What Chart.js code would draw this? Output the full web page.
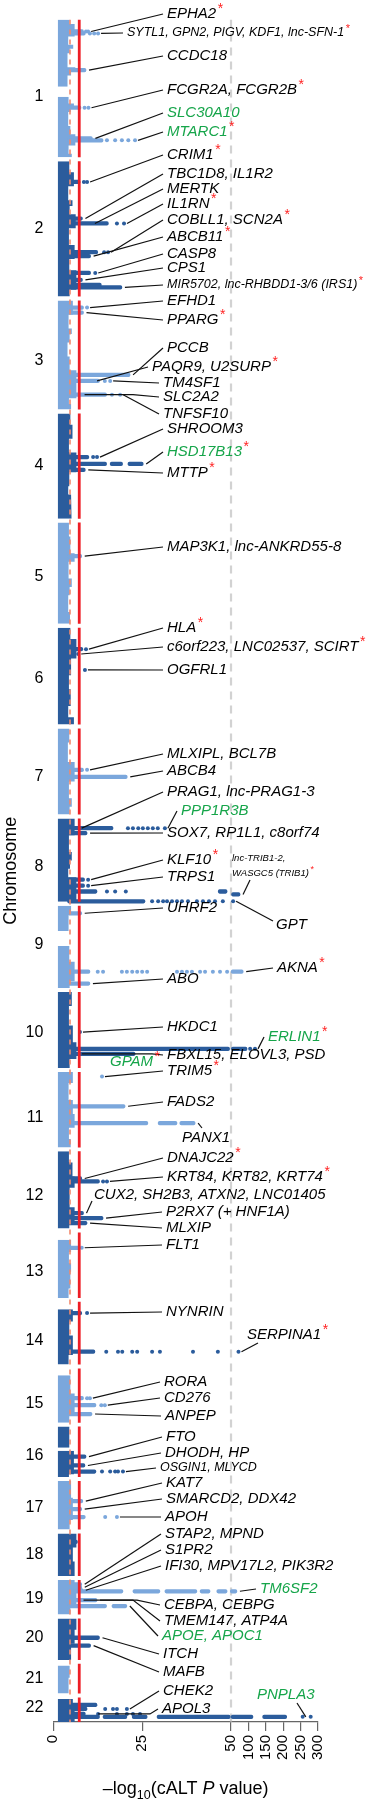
<!DOCTYPE html>
<html>
<head>
<meta charset="utf-8">
<title>cALT Manhattan plot</title>
<script src="https://cdn.jsdelivr.net/npm/chart.js@4.4.1/dist/chart.umd.min.js"></script>
<style>
  html, body { margin: 0; padding: 0; background: #fff; }
  canvas { display: block; }
</style>
</head>
<body>
<canvas id="manhattan" width="367" height="1800"></canvas>
<script>
// ---------- chromosomes (lengths in Mb as drawn) ----------
const chromosomes = ["1","2","3","4","5","6","7","8","9","10","11","12","13","14","15","16","17","18","19","20","21","22"];
const chromLength = [246,242,195,188,181,173,154,149,147,136,135,138,117,112,97,90,87,76,62,74,53,44];
const chromLabelPos = [138,120,108,94,97,91,86,86,70,72,81,79,70,70,62,52,47,38,34,34,26,19];
const chromGap = 7;

// top of the dense cloud of sub-threshold variants: [from Mb, to Mb, -log10 P]
const bandTop = [
  [[0,8,4.6],[8,30,6.0],[30,45,4.2],[45,52,5.6],[52,60,4.6],[60,85,4.0],[85,92,6.2],[92,100,5.0],[100,120,4.0],[138,150,4.3],[150,158,5.8],[158,165,4.9],[165,190,4.2],[190,205,4.8],[205,225,6.2],[225,240,4.3],[240,246,5.2]],
  [[0,20,4.5],[20,45,5.8],[45,70,4.2],[70,80,5.4],[80,95,4.6],[95,120,6.3],[120,150,4.4],[150,175,6.0],[175,195,4.5],[195,230,6.5],[230,242,4.6]],
  [[0,25,5.5],[25,50,4.3],[50,60,5.2],[60,75,4.6],[75,100,4.0],[100,125,4.6],[125,175,6.5],[175,185,4.4],[185,195,5.0]],
  [[0,20,4.8],[20,45,5.4],[45,70,4.4],[70,105,6.5],[105,130,4.5],[130,145,4.2],[145,160,5.0],[160,188,5.2]],
  [[0,25,4.4],[25,55,4.8],[55,70,6.0],[70,100,4.3],[100,115,5.2],[115,130,4.6],[130,160,4.2],[160,181,4.7]],
  [[0,20,4.8],[20,55,6.5],[55,85,5.0],[85,110,4.4],[110,140,4.9],[140,160,4.2],[160,173,5.8]],
  [[0,25,4.5],[25,60,4.1],[60,95,6.0],[95,125,4.4],[125,140,5.2],[140,154,4.6]],
  [[0,30,6.0],[30,60,4.4],[60,75,5.2],[75,90,4.7],[90,105,4.2],[105,149,6.5]],
  [[0,15,5.0],[15,45,4.3],[72,100,4.5],[100,135,6.0],[135,147,4.6]],
  [[0,25,5.2],[25,60,4.4],[60,90,5.5],[90,120,6.5],[120,136,4.6]],
  [[0,20,5.5],[20,50,4.3],[50,75,5.5],[75,100,6.0],[100,120,4.4],[120,135,4.9]],
  [[0,20,4.4],[20,45,5.4],[45,65,6.0],[65,100,4.6],[100,130,6.0],[130,138,4.5]],
  [[13,35,5.0],[35,55,4.4],[55,70,5.0],[70,100,4.8],[100,117,4.3]],
  [[13,35,5.5],[35,60,4.5],[60,95,5.5],[95,112,4.3]],
  [[12,45,4.8],[45,85,6.0],[85,97,4.5]],
  [[0,38,4.5],[43,85,5.8],[85,90,4.4]],
  [[0,30,5.0],[30,70,5.5],[70,87,4.6]],
  [[0,25,6.5],[25,50,5.5],[50,76,6.0]],
  [[0,15,6.0],[15,45,6.5],[45,62,4.8]],
  [[0,20,6.5],[20,45,6.0],[45,74,5.0]],
  [[3,25,4.6],[25,53,4.3]],
  [[3,15,5.5],[15,44,6.0]]
];

// ---------- axis ----------
const xTicks = [0, 25, 50, 100, 150, 200, 250, 300];
const pFloor = 1.3;
const suggestiveLine = 4.7;
const significantLine = 7.3;
const axisBreak = 50;
const compress = 0.0979;

// ---------- associated loci ----------
const hitChr = [1,1,1,1,1,1, 2,2,2,2,2,2,2,2,2, 3,3,3,3,3, 4,4,4, 5, 6,6,6, 7,7, 8,8,8,8,8,8,8, 9,9,9, 10,10,10, 11,11,11, 12,12,12,12,12, 13, 14,14, 15,15,15, 16,16,16, 17,17,17, 18, 19,19,19,19,19,19, 20,20, 22,22,22,22];
const hitPos = [21.2,24.8,90.2,157.5,212.3,215.8, 37.2,102.6,111.4,162.7,169.8,199.9,212.3,225.6,221.1, 12.8,21.7,133.1,143.8,168.5, 78,90.3,101, 59.9, 38.3,47,75.4, 74,86.5, 17.3,26.1,109.4,120,130.5,135.8,148, 13.4,117.8,139, 71.7,101.8,110.6, 8.3,61.4,91.5, 48.5,53.8,110.4,119.3,128.1, 27.3, 20.1,89.1, 53.2,65.6,81.5, 53.6,69.5,80.3, 36.2,50.4,64.6, 15, 7.8,13.1,18.5,20.3,36.1,46.7, 34.4,48.5, 20.7,29.5,34.8,13.6];
const hitRuns = [
  [[4,8.5]],[[4,9]],[[4,9.2]],[[4,7.8]],[[4,11]],[[4,14]],
  [[4,7.5]],[[4,8.2]],[[4,15.5]],[[4,12.5]],[[4,10.5]],[[4,10.5]],[[4,8.2]],[[4,19.3]],[[4,13.5]],
  [[4,8.5]],[[4,8.5]],[[4,21.6]],[[4,13]],[[4,15]],
  [[4,10]],[[4,15],[16,19.5],[21,25.3]],[[4,9]],
  [[4,8]],
  [[4,8.3]],[],[],
  [[4,8.5]],[[4,20.8]],
  [[4,16.8]],[[4,9.5]],[[4,8.8]],[[4,8.8]],[[4,12.3],[46.4,48.9]],[[51.5,76]],[[4,25.8]],
  [[4,8]],[[4,10.3],[50.5,85]],[[4,10.3]],
  [],[[4,49.6],[51,96]],[[4,23]],
  [],[[4,20.2]],[[4,26.6],[29.5,34.8],[35.6,39.9]],
  [[4,8]],[[4,13]],[[4,8.5]],[[4,14]],[[4,9.5]],
  [[4,7.5]],
  [[4,8]],[[4,11.7]],
  [[4,8.5]],[[4,12]],[[4,10.9]],
  [[4,9.2]],[[4,8.9]],[[4,12]],
  [[4,8.3]],[[4,8]],[[4,9]],
  [[4,6.8]],
  [[4,8]],[[4,8]],[[4,8.3]],[[4,19.6],[22.4,30],[31.4,40.4],[41.3,44.1],[46,48.9],[49.8,67]],[[4,12.3]],[[4,15],[16.5,20.7]],
  [[4,13]],[[4,10.5]],
  [[4,9.5]],[[4,9]],[[4,13],[14,20.7],[22.2,26.4],[29.2,49.8],[50.5,113],[141,210]],[[4,12.3]]
];
const hitDots = [
  [9.2,9.8],[10.3,11.5,12.6],[],[8.8,9.9],[],[15.1,17.4,19.3,21.1,23],
  [8.6,9.5],[],[17.9,19.9],[14.3,15.4],[],[11.8],[],[],[],
  [9.5],[],[],[14.5,16],[16.5,18.8],
  [11.2,12.3],[],[],
  [],
  [9.2],[7],[8.9],
  [9.5],[],
  [21,22.4,23.9,25.2,26.6,28,29.4,31.4],[],[9.8],[9.8],[15.1,17.4,20.4],[],[27.8,29.5,30.9,32,33.4,34.8,36.2,37.9,40.4,42.1,43.8,45.5,47.7,56],
  [],[12.5,14,19.3,20.7,22.2,23.6,25,26.4,34.8,36.2,37.6,39,41.3,42.7,44.9,46.9,48.9],[],
  [7.5],[105,119],[],
  [13.7],[],[],
  [],[14,15.1],[],[],[],
  [8],
  [9.5],[14.9,18.2,19.4,22.2,23.6,27.8,30,39.3,46.3,71.5],
  [9.5,10.3],[13.5,14.5],[],
  [],[],[13.7,16,17.4,18.2,19.6],
  [],[],[14.6,17.9],
  [],
  [],[],[],[],[],[],
  [],[],
  [14.6,16.8,17.9,20.7],[12.6,17.9,20.7,22.4,24.4],[256,279],[]
];

// ---------- gene labels ----------
const geneNames = [
  "EPHA2","SYTL1, GPN2, PIGV, KDF1, lnc-SFN-1","CCDC18","FCGR2A, FCGR2B","SLC30A10","MTARC1",
  "CRIM1","TBC1D8, IL1R2","MERTK","IL1RN","COBLL1, SCN2A","ABCB11","CASP8","CPS1","MIR5702, lnc-RHBDD1-3/6 (IRS1)",
  "EFHD1","PPARG","PCCB","PAQR9, U2SURP","TM4SF1","SLC2A2","TNFSF10",
  "SHROOM3","HSD17B13","MTTP","MAP3K1, lnc-ANKRD55-8",
  "HLA","c6orf223, LNC02537, SCIRT","OGFRL1","MLXIPL, BCL7B","ABCB4",
  "PRAG1, lnc-PRAG1-3","PPP1R3B","SOX7, RP1L1, c8orf74","KLF10","TRPS1","lnc-TRIB1-2,\nWASGC5 (TRIB1)","GPT",
  "UHRF2","AKNA","ABO","HKDC1","ERLIN1","FBXL15, ELOVL3, PSD","GPAM","TRIM5","FADS2","PANX1",
  "DNAJC22","KRT84, KRT82, KRT74","CUX2, SH2B3, ATXN2, LNC01405","P2RX7 (+ HNF1A)","MLXIP","FLT1",
  "NYNRIN","SERPINA1","RORA","CD276","ANPEP","FTO","DHODH, HP","OSGIN1, MLYCD",
  "KAT7","SMARCD2, DDX42","APOH","STAP2, MPND","S1PR2","IFI30, MPV17L2, PIK3R2","TM6SF2",
  "CEBPA, CEBPG","TMEM147, ATP4A","APOE, APOC1","ITCH","MAFB","CHEK2","APOL3","PNPLA3"
];
const geneHit = [0,1,2,3,4,5,6,7,8,8,9,10,11,12,13,15,16,17,18,18,19,19,20,21,22,23,24,25,26,27,28,29,29,30,31,32,34,35,36,37,38,39,40,41,41,42,43,44,45,46,47,48,49,50,51,52,53,54,55,56,57,58,59,60,61,63,64,65,66,67,67,68,69,70,71,72,73];
const geneAnchor = {8: 11.7, 18: 12.3, 20: 8.8, 31: 8, 43: 8, 70: 8.5, 75: 12.6, 76: 265};
const geneStar = [0,1,3,5,6,9,10,11,14,16,18,23,24,26,27,34,36,39,42,44,45,48,49,55];

// label placement (pixels)
const geneLayout = [
  {x:167,y:14},{x:127,y:33,size:12.5},{x:167,y:56},{x:167,y:90},{x:167,y:113},{x:167,y:132},
  {x:167,y:155},{x:167,y:174},{x:167,y:189},{x:167,y:204},{x:167,y:220},{x:167,y:237},{x:167,y:254},{x:167,y:268},{x:167,y:285,size:12.5},
  {x:167,y:301},{x:167,y:320},{x:167,y:348},{x:152,y:367},{x:163,y:383},{x:163,y:397,elbow:133},{x:163,y:414},
  {x:167,y:429},{x:167,y:452},{x:167,y:473},{x:167,y:547},
  {x:167,y:628},{x:167,y:647},{x:167,y:670},{x:167,y:754},{x:167,y:771},
  {x:167,y:792},{x:181,y:811},{x:167,y:833},{x:167,y:860},{x:167,y:877},{x:232,y:858,size:9.5,lead:15,end:[250,880]},{x:276,y:925,end:[273,921]},
  {x:167,y:908},{x:277,y:968},{x:167,y:979},{x:167,y:1027},{x:268,y:1037},{x:167,y:1055,elbow:152},{x:110,y:1062,noLine:true},{x:167,y:1071},{x:167,y:1102},{x:182,y:1138,end:[202,1128]},
  {x:167,y:1158},{x:167,y:1177},{x:94,y:1195,end:[92,1201]},{x:166,y:1212},{x:166,y:1228},{x:166,y:1245},
  {x:166,y:1312},{x:247,y:1335,end:[258,1343]},{x:164,y:1382},{x:164,y:1398},{x:165,y:1416},{x:166,y:1437},{x:165,y:1453},{x:160,y:1468,size:12.5},
  {x:166,y:1483},{x:166,y:1499},{x:165,y:1517},{x:165,y:1534},{x:165,y:1550},{x:165,y:1566},{x:260,y:1589},
  {x:164,y:1605,elbow:137},{x:164,y:1621,elbow:133},{x:162,y:1636},{x:163,y:1654},{x:163,y:1672},{x:163,y:1691},{x:162,y:1709,elbow:150},{x:257,y:1695,end:[297,1703]}
];
const greenGenes = [4,5,23,32,42,44,68,71,76];

// ---------- derived ----------
const LIGHT = "#7ba7dc", DARK = "#2b5c9c";
const chromColor = i => (i % 2 === 0 ? LIGHT : DARK);
const chromStart = [];
chromLength.reduce((acc, len, i) => { chromStart[i] = acc; return acc + len + chromGap; }, 0);
const genomeLength = chromStart[21] + chromLength[21];
const hitY = h => chromStart[hitChr[h] - 1] + hitPos[h];
const hitMax = h => Math.max(...hitRuns[h].map(r => r[1]), ...hitDots[h]);
const squash = v => (v <= axisBreak ? v : axisBreak + (v - axisBreak) * compress);

// broken x axis: linear up to 50, compressed above
class BrokenScale extends Chart.LinearScale {
  getPixelForValue(value) {
    if (value === null || value === undefined || isNaN(value)) return NaN;
    return this.getPixelForDecimal(squash(value) / squash(this.max));
  }
  getValueForPixel(pixel) {
    const t = this.getDecimalForPixel(pixel) * squash(this.max);
    return t <= axisBreak ? t : axisBreak + (t - axisBreak) / compress;
  }
}
BrokenScale.id = "broken";
BrokenScale.defaults = {};
Chart.register(BrokenScale);

Chart.defaults.font.family = "'Liberation Sans', Arial, Helvetica, sans-serif";
Chart.defaults.color = "#000";

// band datasets, one per chromosome
const bandSets = bandTop.map((ranges, i) => {
  const pts = [];
  let prevEnd = null;
  ranges.forEach(([from, to, top]) => {
    if (prevEnd !== null && from > prevEnd) pts.push({x: null, y: chromStart[i] + (prevEnd + from) / 2});
    pts.push({x: top, y: chromStart[i] + from}, {x: top, y: chromStart[i] + to});
    prevEnd = to;
  });
  return {
    type: "line", indexAxis: "y", data: pts,
    fill: {value: pFloor}, backgroundColor: chromColor(i),
    borderWidth: 0, pointRadius: 0, order: 6
  };
});

const runBars = [], runColors = [], dotPts = [], dotColors = [];
hitChr.forEach((c, h) => {
  hitRuns[h].forEach(r => { runBars.push({y: hitY(h), x: r}); runColors.push(chromColor(c - 1)); });
  hitDots[h].forEach(v => { dotPts.push({x: v, y: hitY(h)}); dotColors.push(chromColor(c - 1)); });
});

const redPts = [];
chromStart.forEach((s, i) => {
  redPts.push({x: significantLine, y: s}, {x: significantLine, y: s + chromLength[i]}, {x: null, y: s + chromLength[i] + 1});
});

// ---------- gene labels + axis title ----------
const labelPlugin = {
  id: "geneLabels",
  afterDraw(chart) {
    const {ctx, scales: {x, y}, chartArea} = chart;
    ctx.save();
    ctx.lineWidth = 1.2;
    ctx.strokeStyle = "#111";
    ctx.textBaseline = "middle";
    geneNames.forEach((name, i) => {
      const lay = geneLayout[i];
      const h = geneHit[i];
      const yy = y.getPixelForValue(hitY(h));
      if (!lay.noLine) {
        const x0 = geneAnchor[i] !== undefined ? x.getPixelForValue(geneAnchor[i]) : x.getPixelForValue(hitMax(h)) + 3;
        const end = lay.end || [lay.x - 4, lay.y];
        ctx.beginPath();
        ctx.moveTo(x0, yy);
        if (lay.elbow) ctx.lineTo(lay.elbow, yy);
        ctx.lineTo(end[0], end[1]);
        ctx.stroke();
      }
      const size = lay.size || 15;
      ctx.fillStyle = greenGenes.includes(i) ? "#16a54a" : "#000";
      const lines = name.split("\n");
      let ly = lay.y, w = 0;
      lines.forEach((ln, k) => {
        ly = lay.y + k * (lay.lead || 0);
        ctx.font = "italic " + size + "px 'Liberation Sans', Arial, sans-serif";
        ctx.fillText(ln, lay.x, ly);
        w = ctx.measureText(ln).width;
      });
      if (geneStar.includes(i)) {
        ctx.fillStyle = "#ff2222";
        ctx.font = Math.round(size * 0.9) + "px 'Liberation Sans', Arial, sans-serif";
        ctx.fillText("*", lay.x + w + 1.5, ly - size * 0.32);
      }
    });

    // x axis title: –log10(cALT P value)
    const parts = [
      {t: "\u2013log", f: "18px", dy: 0},
      {t: "10", f: "12.5px", dy: 5},
      {t: "(cALT ", f: "18px", dy: 0},
      {t: "P", f: "italic 18px", dy: 0},
      {t: " value)", f: "18px", dy: 0}
    ];
    const fam = " 'Liberation Sans', Arial, sans-serif";
    let total = 0;
    parts.forEach(p => { ctx.font = p.f + fam; p.w = ctx.measureText(p.t).width; total += p.w; });
    let cx = (chartArea.left + chartArea.right) / 2 - total / 2;
    ctx.fillStyle = "#000";
    ctx.textBaseline = "alphabetic";
    parts.forEach(p => { ctx.font = p.f + fam; ctx.fillText(p.t, cx, 1794 + p.dy); cx += p.w; });
    ctx.restore();
  }
};

new Chart(document.getElementById("manhattan"), {
  type: "bar",
  data: {
    datasets: [
      ...bandSets,
      {
        type: "line", indexAxis: "y", data: [{x: axisBreak, y: 0}, {x: axisBreak, y: genomeLength}],
        borderColor: "#d2d2d2", borderWidth: 2.2, borderDash: [8, 6], pointRadius: 0, fill: false, order: 5
      },
      {
        type: "bar", data: runBars, backgroundColor: runColors,
        barThickness: 3.6, grouped: false, borderRadius: 1.8, borderSkipped: false, order: 4
      },
      {
        type: "scatter", data: dotPts, backgroundColor: dotColors,
        pointRadius: 2, borderWidth: 0, order: 3
      },
      {
        type: "line", indexAxis: "y", data: [{x: suggestiveLine, y: 0}, {x: suggestiveLine, y: genomeLength}],
        borderColor: "#f3886b", borderWidth: 1.6, borderDash: [5, 5], pointRadius: 0, fill: false, order: 2
      },
      {
        type: "line", indexAxis: "y", data: redPts,
        borderColor: "#ee1d25", borderWidth: 2.8, pointRadius: 0, fill: false, order: 1
      }
    ]
  },
  options: {
    indexAxis: "y",
    responsive: false,
    animation: false,
    events: [],
    layout: {padding: {top: 2, right: 49, bottom: 0, left: 0}},
    plugins: {legend: {display: false}, tooltip: {enabled: false}},
    scales: {
      x: {
        type: "broken", min: 0, max: 300, offset: false,
        grid: {display: true, drawOnChartArea: false, drawTicks: true, tickLength: 9, color: "#666", lineWidth: 1.2},
        border: {display: true, color: "#666", width: 1.2},
        ticks: {autoSkip: false, minRotation: 90, maxRotation: 90, padding: 4, color: "#000", font: {size: 15}},
        afterBuildTicks: s => { s.ticks = xTicks.map(v => ({value: v})); },
        afterFit: s => { s.height = 78; }
      },
      y: {
        type: "linear", reverse: true, min: 0, max: genomeLength, offset: false,
        grid: {display: false, drawTicks: false},
        border: {display: false},
        ticks: {autoSkip: false, padding: 10, color: "#000", font: {size: 16}, callback: (v, i) => chromosomes[i]},
        afterBuildTicks: s => { s.ticks = chromLabelPos.map((p, i) => ({value: chromStart[i] + p})); },
        afterFit: s => { s.width = 53.3; },
        title: {display: true, text: "Chromosome", color: "#000", font: {size: 18}, padding: {top: 0, bottom: 0}}
      }
    }
  },
  plugins: [labelPlugin]
});
</script>
</body>
</html>
